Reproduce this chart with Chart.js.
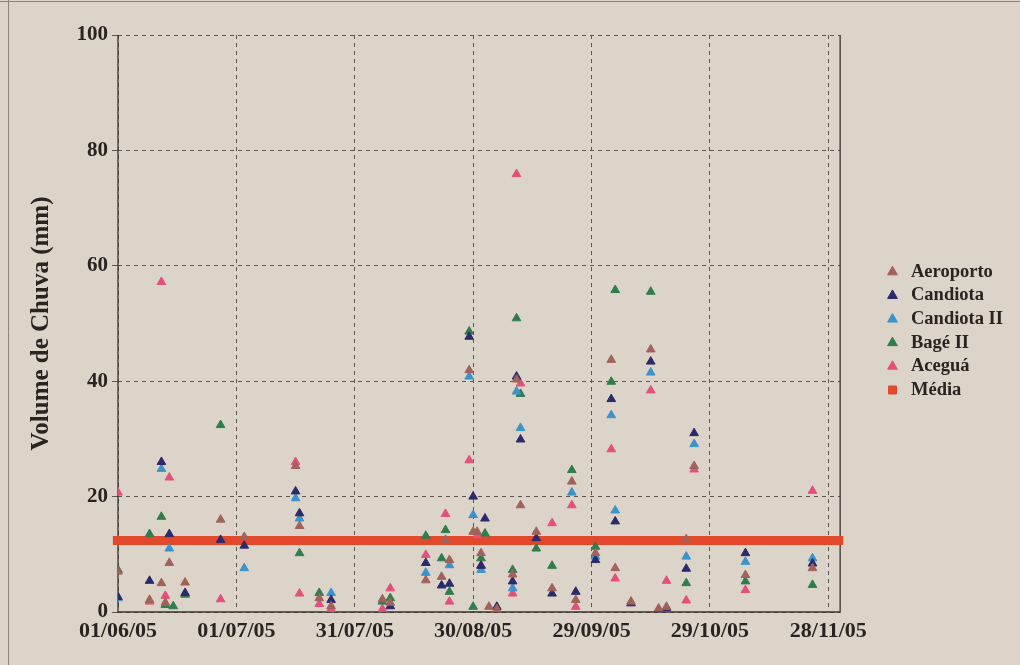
<!DOCTYPE html>
<html lang="pt">
<head>
  <meta charset="UTF-8" />
  <title>Volume de Chuva</title>
  <script src="https://cdn.jsdelivr.net/npm/chart.js"></script>
  <style>
    html, body { margin: 0; padding: 0; background: #dcd3c9; }
    #wrap { width: 1020px; height: 665px; }
  </style>
</head>
<body>
  <div id="wrap"><canvas id="chuvaChart" width="1020" height="665"></canvas></div>

  <script>
    // dias contados a partir de 01/06/05
    const xTickDays = [0, 30, 60, 90, 120, 150, 180];
    const xTickLabels = ['01/06/05', '01/07/05', '31/07/05', '30/08/05', '29/09/05', '29/10/05', '28/11/05'];

    const aeroportoDias = [0, 8, 11, 12, 13, 17, 26, 32, 45, 46, 51, 54, 67, 69, 78, 82, 83, 84, 89, 90, 91, 92, 94, 96, 100, 101, 102, 106, 110, 115, 116, 121, 125, 126, 130, 135, 137, 139, 144, 146, 159, 176];
    const aeroportoMm   = [7.0, 2.1, 5.0, 1.6, 8.5, 5.1, 16.0, 13.0, 25.3, 14.9, 2.4, 1.0, 2.2, 1.6, 5.5, 6.1, 12.5, 9.0, 41.9, 13.9, 13.9, 10.2, 0.9, 0.5, 6.5, 40.3, 18.5, 13.9, 4.1, 22.6, 2.1, 10.2, 43.7, 7.6, 1.8, 45.5, 0.6, 0.9, 12.6, 25.3, 6.4, 7.6];

    const candiotaDias = [0, 8, 11, 13, 17, 26, 32, 45, 46, 54, 69, 78, 82, 84, 89, 90, 92, 93, 96, 100, 101, 102, 106, 110, 116, 121, 125, 126, 130, 135, 137, 139, 144, 146, 159, 176];
    const candiotaMm   = [2.6, 5.4, 26.0, 13.5, 3.3, 12.5, 11.5, 20.9, 17.1, 2.1, 1.0, 8.5, 4.6, 4.9, 47.7, 20.0, 8.0, 16.2, 0.9, 5.3, 40.8, 29.9, 12.8, 3.2, 3.5, 9.0, 36.9, 15.7, 1.5, 43.4, 0.4, 0.7, 7.5, 31.0, 10.2, 8.4];

    const candiota2Dias = [0, 11, 13, 32, 45, 46, 54, 78, 84, 89, 90, 92, 100, 101, 102, 115, 121, 125, 126, 135, 144, 146, 159, 176];
    const candiota2Mm   = [2.4, 24.8, 11.0, 7.6, 19.7, 16.2, 3.3, 6.8, 8.1, 40.8, 16.8, 7.3, 4.1, 38.2, 31.9, 20.7, 9.6, 34.1, 17.6, 41.5, 9.6, 29.1, 8.7, 9.3];

    const bage2Dias = [0, 8, 11, 12, 14, 17, 26, 46, 51, 67, 69, 78, 82, 83, 84, 89, 90, 92, 93, 100, 101, 102, 106, 110, 115, 121, 125, 126, 135, 144, 159, 176];
    const bage2Mm   = [7.3, 13.5, 16.5, 1.2, 1.0, 3.0, 32.4, 10.2, 3.3, 1.8, 2.4, 13.2, 9.3, 14.2, 3.5, 48.6, 0.9, 9.3, 13.6, 7.3, 50.9, 37.8, 11.0, 8.0, 24.6, 11.3, 39.9, 55.8, 55.5, 5.0, 5.3, 4.7];

    const aceguaDias = [0, 8, 11, 12, 13, 26, 45, 46, 51, 54, 67, 69, 78, 83, 84, 89, 91, 92, 100, 101, 102, 110, 115, 116, 125, 126, 135, 139, 144, 146, 159, 176];
    const aceguaMm   = [20.7, 1.8, 57.2, 2.8, 23.3, 2.2, 26.0, 3.2, 1.4, 0.5, 0.5, 4.1, 9.9, 17.0, 1.8, 26.3, 13.3, 8.1, 3.2, 75.9, 39.6, 15.4, 18.5, 0.9, 28.2, 5.8, 38.4, 5.4, 2.0, 24.7, 3.8, 21.0];

    const mediaMm = 12.4;
    const mediaDias = [-1.3, 183.8];

    const serif = "'Liberation Serif', 'Times New Roman', serif";
    const inkColor = '#2a2420';

    function pares(dias, mm) {
      return dias.map((d, i) => ({ x: d, y: mm[i] }));
    }

    function estacao(label, dias, mm, color) {
      return {
        type: 'scatter',
        label: label,
        data: pares(dias, mm),
        pointStyle: 'triangle',
        pointRadius: 5,
        pointHoverRadius: 5,
        backgroundColor: color,
        borderColor: color,
        borderWidth: 1
      };
    }

    // fundo de papel, moldura e eixos solidos
    const paperPlugin = {
      id: 'paper',
      beforeDraw(chart) {
        const ctx = chart.ctx;
        ctx.save();
        ctx.fillStyle = '#dcd3c9';
        ctx.fillRect(0, 0, chart.width, chart.height);
        ctx.strokeStyle = '#8d837a';
        ctx.lineWidth = 1;
        ctx.beginPath();
        ctx.moveTo(8.5, 0);
        ctx.lineTo(8.5, chart.height);
        ctx.moveTo(0, 1.5);
        ctx.lineTo(chart.width, 1.5);
        ctx.stroke();
        ctx.restore();
      },
      afterLayout(chart) {
        // sobe a legenda um pouco, como no original
        if (chart.legend) {
          chart.legend.top -= 19;
          chart.legend.bottom -= 19;
        }
      },
      beforeDatasetsDraw(chart) {
        const { ctx, chartArea: a } = chart;
        ctx.save();
        ctx.strokeStyle = '#3a332e';
        ctx.lineWidth = 1.3;
        ctx.setLineDash([]);
        ctx.beginPath();
        ctx.moveTo(a.left, a.top);
        ctx.lineTo(a.left, a.bottom);
        ctx.lineTo(a.right, a.bottom);
        ctx.lineTo(a.right, a.top);
        ctx.stroke();
        ctx.restore();
      }
    };

    new Chart(document.getElementById('chuvaChart'), {
      type: 'scatter',
      data: {
        datasets: [
          estacao('Aeroporto', aeroportoDias, aeroportoMm, '#a0625a'),
          estacao('Candiota', candiotaDias, candiotaMm, '#2b2a6b'),
          estacao('Candiota II', candiota2Dias, candiota2Mm, '#3b93cc'),
          estacao('Bagé II', bage2Dias, bage2Mm, '#2f7d4c'),
          estacao('Aceguá', aceguaDias, aceguaMm, '#e4507a'),
          {
            type: 'line',
            label: 'Média',
            data: mediaDias.map(d => ({ x: d, y: mediaMm })),
            borderColor: '#e2482c',
            backgroundColor: '#e2482c',
            borderWidth: 9,
            pointRadius: 0,
            pointHoverRadius: 0,
            pointStyle: 'rect',
            clip: false
          }
        ]
      },
      options: {
        responsive: false,
        animation: false,
        events: [],
        layout: { padding: { top: 35, right: 7, bottom: 0, left: 0 } },
        plugins: {
          tooltip: { enabled: false },
          legend: {
            position: 'right',
            align: 'center',
            labels: {
              usePointStyle: true,
              boxHeight: 8,
              padding: 5.1,
              color: inkColor,
              font: { family: serif, size: 18.5, weight: 'bold' },
              generateLabels(chart) {
                const items = Chart.defaults.plugins.legend.labels.generateLabels(chart);
                items.forEach(it => { it.lineWidth = 1; });
                return items;
              }
            }
          }
        },
        scales: {
          x: {
            type: 'linear',
            min: 0,
            max: 183,
            afterBuildTicks(scale) {
              scale.ticks = xTickDays.map(v => ({ value: v }));
            },
            afterFit(scale) { scale.height = 53; },
            ticks: {
              color: inkColor,
              padding: 6,
              maxRotation: 0,
              autoSkip: false,
              font: { family: serif, size: 22, weight: 'bold' },
              callback: (v) => xTickLabels[xTickDays.indexOf(v)] ?? ''
            },
            grid: { color: '#5e5650', lineWidth: 1, drawTicks: false },
            border: { display: false, dash: [4, 4] }
          },
          y: {
            min: 0,
            max: 100,
            afterFit(scale) { scale.width = 118; },
            ticks: {
              stepSize: 20,
              color: inkColor,
              padding: 4,
              font: { family: serif, size: 21, weight: 'bold' }
            },
            grid: { color: '#5e5650', lineWidth: 1, tickLength: 6 },
            border: { display: false, dash: [4, 4] },
            title: {
              display: true,
              text: 'Volume de Chuva (mm)',
              color: inkColor,
              padding: { top: 27, bottom: 0 },
              font: { family: serif, size: 25, weight: 'bold' }
            }
          },
          yR: {
            position: 'right',
            min: 0,
            max: 100,
            afterFit(scale) { scale.width = 38; },
            ticks: { display: false },
            grid: { display: false },
            border: { display: false }
          }
        }
      },
      plugins: [paperPlugin]
    });
  </script>
</body>
</html>
